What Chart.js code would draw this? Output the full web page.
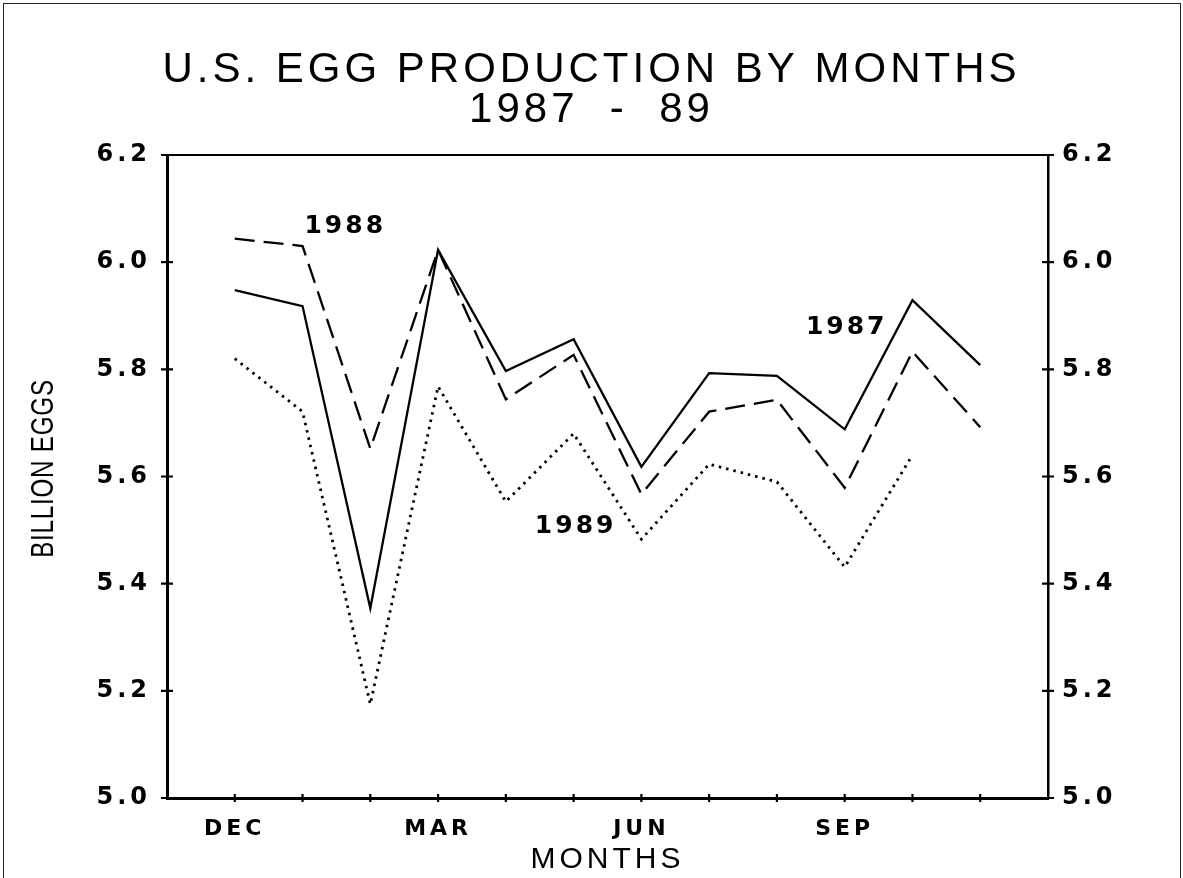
<!DOCTYPE html>
<html>
<head>
<meta charset="utf-8">
<script src="https://cdn.jsdelivr.net/npm/chart.js@4.4.0/dist/chart.umd.min.js"></script>
<style>
  html, body { margin: 0; padding: 0; background: #fff; }
  #wrap { position: relative; width: 1183px; height: 878px; }
  #frame { position: absolute; left: 3px; top: 3px; right: 2px; bottom: -5px; border: 1.5px solid #222; pointer-events: none; }
</style>
</head>
<body>
<div id="wrap">
  <canvas id="chart" width="1183" height="878"></canvas>
  <div id="frame"></div>
</div>
<script>
// months Dec .. Nov, x positions 0..11
const months = ['DEC', 'JAN', 'FEB', 'MAR', 'APR', 'MAY', 'JUN', 'JUL', 'AUG', 'SEP', 'OCT', 'NOV'];
const shownMonths = ['DEC', 'MAR', 'JUN', 'SEP'];

// billion eggs
const eggs1987 = [5.948, 5.918, 5.354, 6.023, 5.797, 5.856, 5.618, 5.793, 5.788, 5.688, 5.929, 5.808];
const eggs1988 = [6.044, 6.030, 5.652, 6.023, 5.744, 5.827, 5.567, 5.721, 5.743, 5.579, 5.833, 5.692];
const eggs1989 = [5.820, 5.721, 5.175, 5.768, 5.553, 5.680, 5.483, 5.623, 5.590, 5.431, 5.640, null];

const yTicks = [5.0, 5.2, 5.4, 5.6, 5.8, 6.0, 6.2];
const yTitle = 'BILLION EGGS';

// year labels placed in data units
const yearLabels = [
    { text: '1988', x: 1.63, y: 6.066 },
    { text: '1989', x: 5.03, y: 5.507 },
    { text: '1987', x: 9.03, y: 5.879 }
];

function toPoints(values) {
    return values.map((v, i) => ({ x: i, y: v }));
}

const frameAndTicks = {
    id: 'frameAndTicks',
    beforeDraw(chart) {
        chart.ctx.letterSpacing = '4px';
    },
    afterDraw(chart) {
        const ctx = chart.ctx;
        const area = chart.chartArea;
        const xs = chart.scales.x;
        const yl = chart.scales.y;
        ctx.save();
        ctx.strokeStyle = '#000';

        // top edge of the box
        ctx.lineWidth = 1.8;
        ctx.beginPath();
        ctx.moveTo(area.left, area.top);
        ctx.lineTo(area.right, area.top);
        ctx.stroke();

        // tick marks crossing the axes
        ctx.lineWidth = 2.2;
        ctx.beginPath();
        yTicks.forEach(v => {
            const py = yl.getPixelForValue(v);
            ctx.moveTo(area.left - 6, py);
            ctx.lineTo(area.left + 6, py);
            ctx.moveTo(area.right - 6, py);
            ctx.lineTo(area.right + 6, py);
        });
        months.forEach((m, i) => {
            const px = xs.getPixelForValue(i);
            ctx.moveTo(px, area.bottom - 4);
            ctx.lineTo(px, area.bottom + 4);
        });
        ctx.stroke();

        ctx.fillStyle = '#000';
        ctx.textAlign = 'center';
        ctx.textBaseline = 'middle';

        // y axis title, narrow letters
        ctx.save();
        ctx.letterSpacing = '1px';
        ctx.translate(44, (area.top + area.bottom) / 2 - 8);
        ctx.rotate(-Math.PI / 2);
        ctx.scale(0.78, 1);
        ctx.font = '31px "Liberation Sans"';
        ctx.fillText(yTitle, 0, 0);
        ctx.restore();

        // year labels
        ctx.letterSpacing = '3px';
        ctx.font = 'bold 25px "DejaVu Sans"';
        yearLabels.forEach(l => {
            ctx.fillText(l.text, xs.getPixelForValue(l.x), yl.getPixelForValue(l.y));
        });
        ctx.restore();
    }
};

const tickFont = { family: '"DejaVu Sans"', size: 24, weight: 'bold' };

new Chart(document.getElementById('chart').getContext('2d'), {
    type: 'line',
    data: {
        datasets: [
            {
                label: '1987',
                data: toPoints(eggs1987),
                borderColor: '#000',
                borderWidth: 2.3,
                pointRadius: 0,
                tension: 0,
                fill: false
            },
            {
                label: '1988',
                data: toPoints(eggs1988),
                borderColor: '#000',
                borderWidth: 2.3,
                borderDash: [20, 9],
                pointRadius: 0,
                tension: 0,
                fill: false
            },
            {
                label: '1989',
                data: toPoints(eggs1989),
                borderColor: '#000',
                borderWidth: 2.8,
                borderDash: [2.5, 5],
                pointRadius: 0,
                tension: 0,
                fill: false
            }
        ]
    },
    options: {
        responsive: false,
        animation: false,
        layout: { padding: 0 },
        scales: {
            x: {
                type: 'linear',
                position: 'bottom',
                min: -1,
                max: 12,
                afterBuildTicks: (scale) => {
                    scale.ticks = months.map((m, i) => ({ value: i }));
                },
                afterFit: (scale) => { scale.height = 80; },
                ticks: {
                    autoSkip: false,
                    maxRotation: 0,
                    padding: 18,
                    color: '#000',
                    font: { family: '"DejaVu Sans"', size: 22, weight: 'bold' },
                    callback: (v) => shownMonths.includes(months[v]) ? months[v] : ''
                },
                grid: { display: false, drawTicks: false },
                border: { display: true, color: '#000', width: 3 },
                title: {
                    display: true,
                    text: 'MONTHS',
                    color: '#000',
                    padding: 0,
                    font: { family: '"Liberation Sans"', size: 30 }
                }
            },
            y: {
                type: 'linear',
                position: 'left',
                min: 5.0,
                max: 6.2,
                afterBuildTicks: (scale) => {
                    scale.ticks = yTicks.map(v => ({ value: v }));
                },
                afterFit: (scale) => { scale.width = 167; },
                ticks: {
                    padding: 16,
                    color: '#000',
                    font: tickFont,
                    callback: (v) => v.toFixed(1)
                },
                grid: { display: false, drawTicks: false },
                border: { display: true, color: '#000', width: 3 }
            },
            y2: {
                type: 'linear',
                position: 'right',
                min: 5.0,
                max: 6.2,
                afterBuildTicks: (scale) => {
                    scale.ticks = yTicks.map(v => ({ value: v }));
                },
                afterFit: (scale) => { scale.width = 135; },
                ticks: {
                    padding: 14,
                    color: '#000',
                    font: tickFont,
                    callback: (v) => v.toFixed(1)
                },
                grid: { display: false, drawTicks: false },
                border: { display: true, color: '#000', width: 2.5 }
            }
        },
        plugins: {
            legend: { display: false },
            tooltip: { enabled: false },
            title: {
                display: true,
                text: ['U.S. EGG PRODUCTION BY MONTHS', '1987  -  89'],
                color: '#000',
                padding: { top: 50, bottom: 25 },
                font: { family: '"Liberation Sans"', size: 42, weight: 'normal', lineHeight: '40px' }
            }
        }
    },
    plugins: [frameAndTicks]
});
</script>
</body>
</html>
